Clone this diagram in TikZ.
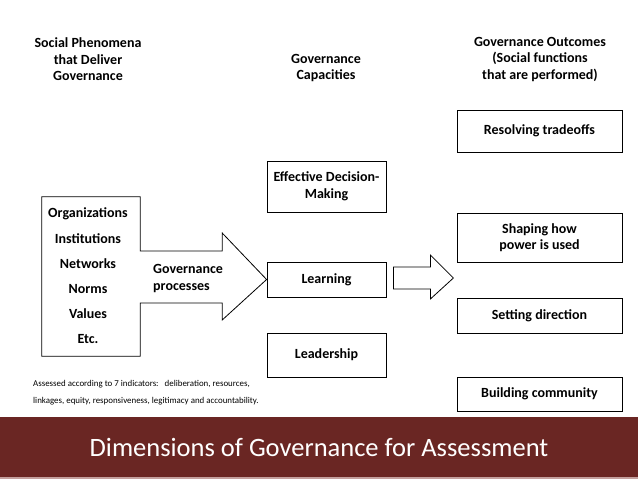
\documentclass[tikz,border=0pt]{standalone}
\usepackage{fontspec}
\setmainfont{Carlito}
\usetikzlibrary{positioning,calc}
\definecolor{bannerred}{RGB}{106,38,35}
\definecolor{bannerline}{RGB}{196,160,158}
\begin{document}
\begin{tikzpicture}[x=1pt,y=-1pt]
\tikzstyle{every node}+=[inner sep=0pt,align=center,font=\bfseries\fontsize{14}{16.5}\selectfont]
\tikzstyle{capbox}=[draw=black,line width=0.8pt,minimum width=119pt]
\tikzstyle{outbox}=[draw=black,line width=0.8pt,minimum width=165pt]
\useasboundingbox (0,0) rectangle (638,479);
% column headings
\node (hdphen) at (88,59.5) {Social Phenomena\\that Deliver\\Governance};
\node (hdcap) at (326,68) {Governance\\Capacities};
\node (hdout) at (540,59.5) {Governance Outcomes\\(Social functions\\that are performed)};
% left block
\node [minimum width=98pt,minimum height=159pt] (phen) at (91,276.5) {};
\node [font=\bfseries\fontsize{14}{25.2}\selectfont] (phenlist) at (88,276) {Organizations\\Institutions\\Networks\\Norms\\Values\\Etc.};
\node [anchor=west,align=left] (proc) at (153,278.5) {Governance\\processes};
% capacities
\node [capbox,minimum height=51pt] (dec) at (326.5,186.5) {Effective Decision-\\Making};
\node [capbox,minimum height=35pt] (learn) at (326.5,279.5) {Learning};
\node [capbox,minimum height=44pt] (lead) at (326.5,355) {Leadership};
% outcomes
\node [outbox,minimum height=42pt] (trade) at (539.5,131) {Resolving tradeoffs};
\node [outbox,minimum height=49pt] (power) at (539.5,237.5) {Shaping how\\power is used};
\node [outbox,minimum height=35pt] (direct) at (539.5,315.5) {Setting direction};
\node [outbox,minimum height=34pt] (comm) at (539.5,394) {Building community};
% box with process arrow
\draw [line width=0.8pt,line join=miter] (phen.north west) -- (phen.north east) -- ($(phen.east)+(0,-25.5)$) -- ++(82,0) -- ++(0,-18) -- (learn.west) -- ($(phen.east)+(82,43.5)$) -- ++(0,-17) -- ($(phen.east)+(0,26.5)$) -- (phen.south east) -- (phen.south west) -- cycle;
% arrow to outcomes
\draw [line width=0.8pt,line join=miter] ($(learn.east)+(7,-12.5)$) -- ++(37,0) -- ++(0,-12) -- ($(learn.east)+(67,-1.5)$) -- ($(learn.east)+(44,19.5)$) -- ++(0,-10) -- ($(learn.east)+(7,9.5)$) -- cycle;
% note
\node [anchor=west,align=left,font=\fontsize{8.9}{17}\selectfont] (note) at (33,392.5) {Assessed according to 7 indicators:\ \ \ deliberation, resources,\\linkages, equity, responsiveness, legitimacy and accountability.};
% banner
\fill [bannerred] (0,417) rectangle (638,477);
\fill [bannerline] (0,477) rectangle (638,479);
\node [text=white,font=\fontsize{26.5}{30}\selectfont] (title) at (319,447) {Dimensions of Governance for Assessment};
\end{tikzpicture}
\end{document}
